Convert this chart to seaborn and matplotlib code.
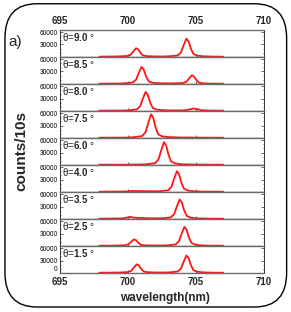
import numpy as np
import pandas as pd
import seaborn as sns
import matplotlib.pyplot as plt
from matplotlib.patches import FancyBboxPatch
from matplotlib.ticker import MultipleLocator

# angle of each panel, top to bottom
thetas = ['9.0', '8.5', '8.0', '7.5', '6.0', '4.0', '3.5', '2.5', '1.5']

# wavelength (nm) and counts
wl_90 = [697.9, 699.3, 699.95, 700.2, 700.4, 700.6, 700.76, 700.93, 701.12, 701.4, 701.9, 702.6, 703.0,
         703.65, 703.9, 704.1, 704.3, 704.46, 704.63, 704.82, 705.1, 705.6, 706.2, 707.0]
ct_90 = [700, 1300, 2400, 5300, 13700, 21000, 17900, 9500, 3400, 1900, 1300, 1100, 1600,
         3500, 11000, 28600, 44000, 37400, 19800, 7000, 3100, 1500, 900, 700]

wl_85 = [697.9, 699.2, 699.7, 700.35, 700.6, 700.8, 701.0, 701.16, 701.33, 701.52, 701.8, 702.3, 703.0,
         703.4, 704.05, 704.3, 704.5, 704.7, 704.86, 705.03, 705.22, 705.5, 706.0, 706.5, 707.0]
ct_85 = [700, 900, 1500, 3400, 10300, 26700, 41000, 34800, 18500, 6600, 2900, 1700, 1300,
         1500, 2300, 5300, 13600, 21000, 17800, 9400, 3400, 1500, 900, 750, 700]

wl_80 = [697.9, 699.5, 700.0, 700.65, 700.9, 701.1, 701.3, 701.46, 701.63, 701.82, 702.1, 702.6, 703.3,
         703.9, 704.3, 704.6, 704.85, 705.1, 705.4, 705.9, 706.5, 707.0]
ct_80 = [700, 900, 1400, 3700, 11500, 29900, 46000, 39100, 20700, 7400, 3200, 1800, 1300,
         1300, 2000, 4200, 6000, 4500, 1800, 900, 750, 700]

wl_75 = [697.9, 699.8, 700.4, 701.05, 701.3, 701.5, 701.7, 701.86, 702.03, 702.22, 702.5, 703.0, 703.8,
         704.6, 705.5, 707.0]
ct_75 = [700, 900, 1700, 4600, 14200, 37000, 57000, 48500, 25600, 9100, 4000, 2000, 1300,
         1000, 800, 700]

wl_60 = [697.9, 700.0, 701.0, 701.35, 702.0, 702.25, 702.45, 702.65, 702.81, 702.98, 703.17, 703.45,
         703.95, 704.7, 705.6, 707.0]
ct_60 = [700, 800, 1100, 1700, 4400, 13800, 35800, 55000, 46800, 24800, 8800, 3900,
         1700, 1000, 800, 700]

wl_40 = [697.9, 699.8, 700.3, 701.0, 701.8, 702.3, 702.95, 703.2, 703.4, 703.6, 703.76, 703.93, 704.12,
         704.4, 704.9, 705.5, 706.3, 707.0]
ct_40 = [700, 1200, 2400, 2200, 1800, 1700, 4000, 12500, 32500, 50000, 42500, 22500, 8000,
         3500, 1500, 900, 750, 700]

wl_35 = [697.9, 699.5, 699.85, 700.15, 700.45, 700.9, 701.5, 702.5, 703.15, 703.4, 703.6, 703.8, 703.96,
         704.13, 704.32, 704.6, 705.1, 705.7, 706.4, 707.0]
ct_35 = [700, 1200, 3000, 5000, 3300, 2300, 1800, 1500, 3800, 11800, 30600, 47000, 40000,
         21200, 7500, 3300, 1400, 900, 750, 700]

wl_25 = [697.9, 699.15, 699.8, 700.05, 700.25, 700.45, 700.61, 700.78, 700.97, 701.25, 701.75, 702.6, 702.85,
         703.5, 703.75, 703.95, 704.15, 704.31, 704.48, 704.67, 704.95, 705.45, 706.0, 706.6, 707.0]
ct_25 = [700, 1000, 1800, 4200, 10400, 16000, 13600, 7200, 2600, 1600, 1200, 1100, 1400,
         3700, 11500, 29900, 46000, 39100, 20700, 7400, 3200, 1400, 900, 750, 700]

wl_15 = [697.9, 699.35, 700.0, 700.25, 700.45, 700.65, 700.81, 700.98, 701.17, 701.45, 701.95, 702.7, 703.0,
         703.65, 703.9, 704.1, 704.3, 704.46, 704.63, 704.82, 705.1, 705.6, 706.2, 707.0]
ct_15 = [700, 1100, 2300, 5300, 13700, 21000, 17900, 9500, 3400, 1900, 1300, 1100, 1500,
         3400, 10500, 27300, 42000, 35700, 18900, 6700, 2900, 1400, 850, 700]

spectra = [(wl_90, ct_90), (wl_85, ct_85), (wl_80, ct_80), (wl_75, ct_75), (wl_60, ct_60),
           (wl_40, ct_40), (wl_35, ct_35), (wl_25, ct_25), (wl_15, ct_15)]

xticks = [695, 700, 705, 710]

sns.set_style('ticks')
plt.rcParams['font.family'] = ['Liberation Sans', 'DejaVu Sans']
plt.rcParams['mathtext.fontset'] = 'custom'
plt.rcParams['mathtext.rm'] = 'Liberation Sans'
plt.rcParams['mathtext.bf'] = 'Liberation Sans:bold'

fig = plt.figure(figsize=(2.91, 3.12), dpi=100)
axes = fig.subplots(len(thetas), 1, sharex=True, gridspec_kw={'hspace': 0})
fig.subplots_adjust(left=0.206, right=0.907, top=0.904, bottom=0.125)

for i, ax in enumerate(axes):
    wl, ct = spectra[i]
    df = pd.DataFrame({'wl': wl, 'counts': ct})
    sns.lineplot(data=df, x='wl', y='counts', ax=ax, color='#ff1515', lw=1.3)
    ax.set_xlim(695, 710)
    ax.set_ylim(0, 65000)
    ax.set_xlabel('')
    ax.set_ylabel('')
    if i == len(axes) - 1:
        ax.set_yticks([0, 30000, 60000])
    else:
        ax.set_yticks([30000, 60000])
    ax.yaxis.set_minor_locator(MultipleLocator(10000))
    ax.set_xticks(xticks)
    ax.tick_params(axis='y', which='both', direction='in', right=True, labelsize=4.7, pad=1.5,
                   length=2, width=0.5, colors='#333333', labelcolor='black')
    ax.tick_params(axis='y', which='minor', length=1)
    ax.tick_params(axis='x', direction='in', length=2.5, width=0.5, top=False,
                   labelbottom=(i == len(axes) - 1), labeltop=(i == 0), labelsize=7, pad=3)
    for lab in ax.get_xticklabels():
        lab.set_fontweight('bold')
    for s in ['top', 'bottom']:
        ax.spines[s].set_color('#6a6a6a')
        ax.spines[s].set_linewidth(1.0)
    for s in ['left', 'right']:
        ax.spines[s].set_color('#333333')
        ax.spines[s].set_linewidth(0.7)
    ax.text(0.012, 0.95, 'θ=' + r'$\mathbf{' + thetas[i] + '}$' + ' °', transform=ax.transAxes,
            ha='left', va='top', fontsize=7)

# lift the bottom "0" a little so it clears the 695 label
axes[-1].get_yticklabels()[0].set_verticalalignment('bottom')

fig.text(0.075, 0.515, 'counts/10s', rotation=90, ha='center', va='center',
         fontsize=11, fontweight='bold')
fig.text(0.567, 0.045, 'wavelength(nm)', ha='center', va='center', fontsize=8.5, fontweight='bold')
fig.text(0.028, 0.865, 'a)', ha='left', va='center', fontsize=11)

frame = FancyBboxPatch((0.017, 0.016), 0.968, 0.972, boxstyle='round,pad=0,rounding_size=0.11',
                       transform=fig.transFigure, fill=False, ec='black', lw=1.0)
fig.patches.append(frame)

fig.savefig('out.png', dpi=100)
